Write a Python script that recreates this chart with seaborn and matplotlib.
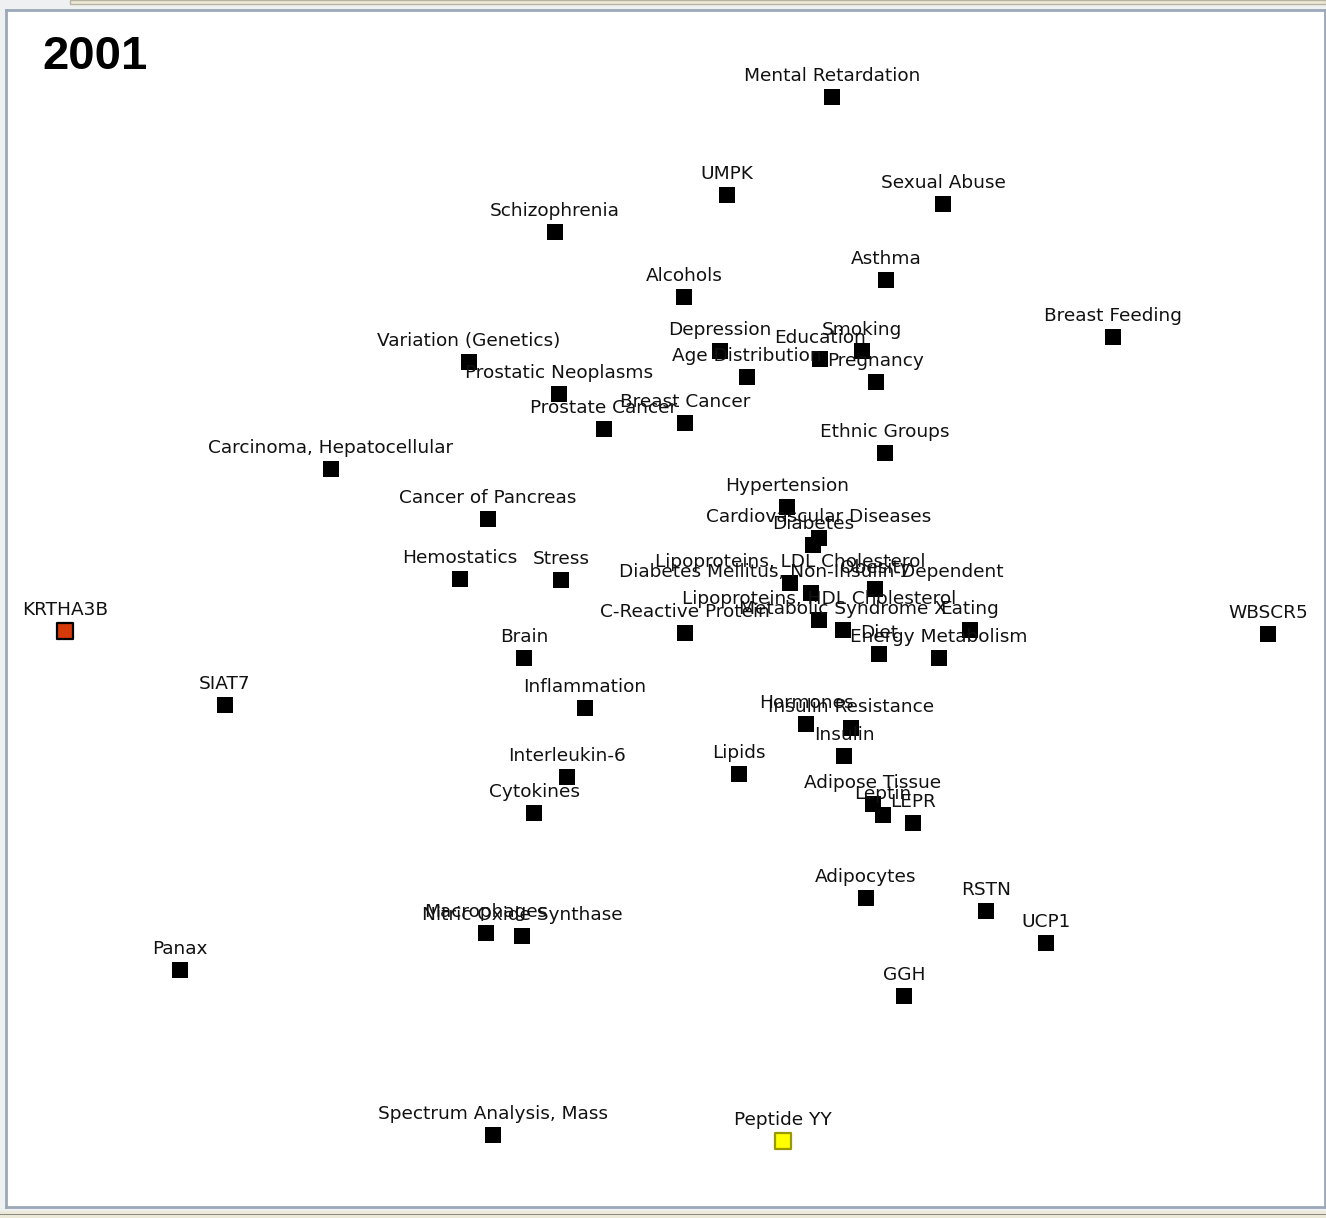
import matplotlib
matplotlib.use("Agg")
import matplotlib.pyplot as plt
from matplotlib.patches import Rectangle
import seaborn as sns
import pandas as pd

terms = [
    "Mental Retardation", "UMPK", "Sexual Abuse", "Schizophrenia", "Asthma",
    "Alcohols", "Breast Feeding", "Depression", "Education", "Smoking",
    "Age Distribution", "Pregnancy", "Variation (Genetics)", "Prostatic Neoplasms",
    "Prostate Cancer", "Breast Cancer", "Ethnic Groups", "Carcinoma, Hepatocellular",
    "Cancer of Pancreas", "Hypertension", "Cardiovascular Diseases", "Diabetes",
    "Hemostatics", "Stress", "Lipoproteins, LDL Cholesterol",
    "Diabetes Mellitus, Non-Insulin-Dependent", "Obesity",
    "Lipoproteins, HDL Cholesterol", "Metabolic Syndrome X", "Eating", "Diet",
    "Energy Metabolism", "C-Reactive Protein", "Brain", "KRTHA3B", "SIAT7",
    "WBSCR5", "Inflammation", "Hormones", "Insulin Resistance", "Insulin",
    "Lipids", "Interleukin-6", "Cytokines", "Adipose Tissue", "Leptin", "LEPR",
    "Adipocytes", "RSTN", "UCP1", "Macrophages", "Nitric Oxide Synthase",
    "Panax", "GGH", "Spectrum Analysis, Mass", "Peptide YY",
]
x_pos = [
    832, 727, 943, 555, 886,
    684, 1113, 720, 820, 862,
    747, 876, 469, 559,
    604, 685, 885, 331,
    488, 787, 819, 813,
    460, 561, 790,
    811, 875,
    819, 843, 970, 879,
    939, 685, 524, 65, 225,
    1268, 585, 806, 851, 844,
    739, 567, 534, 873, 883, 913,
    866, 986, 1046, 486, 522,
    180, 904, 493, 783,
]
y_pos = [
    97, 195, 204, 232, 280,
    297, 337, 351, 359, 351,
    377, 382, 362, 394,
    429, 423, 453, 469,
    519, 507, 538, 545,
    579, 580, 583,
    593, 589,
    620, 630, 630, 654,
    658, 633, 658, 631, 705,
    634, 708, 724, 728, 756,
    774, 777, 813, 804, 815, 823,
    898, 911, 943, 933, 936,
    970, 996, 1135, 1141,
]
status = ["term"] * len(terms)
status[terms.index("KRTHA3B")] = "query"
status[terms.index("Peptide YY")] = "focus"
title_text = "2001"

df = pd.DataFrame({"term": terms, "x": x_pos, "y": y_pos, "status": status})

# ---- figure ----
W, H = 1326, 1218
fig = plt.figure(figsize=(W / 100, H / 100), dpi=100)
fig.patch.set_facecolor("#eef0f2")

# window chrome decorations
fig.patches.append(Rectangle((70 / W, 1 - 4 / H), 1 - 70 / W, 4 / H,
                             transform=fig.transFigure, facecolor="#ece9d8",
                             edgecolor="#b8b4a0", lw=1, zorder=0))
fig.patches.append(Rectangle((0, 0), 1, 7 / H, transform=fig.transFigure,
                             facecolor="#ece9d8", edgecolor="none", zorder=0))
fig.patches.append(Rectangle((0, 3 / H), 1, 1.5 / H, transform=fig.transFigure,
                             facecolor="#8a8a80", edgecolor="none", zorder=0))

left, right, top, bottom = 6, 1325, 10, 1207
ax = fig.add_axes([left / W, (H - bottom) / H, (right - left) / W, (bottom - top) / H])
ax.set_facecolor("white")

palette = {"term": "black", "query": "#d63a08", "focus": "#ffff00"}
edges = {"term": "black", "query": "black", "focus": "#9a9a00"}
sns.scatterplot(data=df, x="x", y="y", hue="status", palette=palette,
                marker="s", s=135, linewidth=0, legend=False, ax=ax, zorder=3)
# outlined special nodes
for st in ["query", "focus"]:
    sub = df[df["status"] == st]
    ax.scatter(sub["x"], sub["y"], marker="s", s=135, facecolor=palette[st],
               edgecolor=edges[st], linewidth=1.6, zorder=4)

label_offset = 21
for t, xx, yy in zip(terms, x_pos, y_pos):
    ax.text(xx, yy - label_offset, t, ha="center", va="center",
            fontsize=13.3, family="DejaVu Sans", color="#111111", zorder=5)

ax.set_xlim(left, right)
ax.set_ylim(bottom, top)
ax.set_xticks([])
ax.set_yticks([])
ax.set_xlabel("")
ax.set_ylabel("")
for sp in ax.spines.values():
    sp.set_color("#9aa8b8")
    sp.set_linewidth(2)

ax.text(42, 57, title_text, fontsize=34, fontweight="bold",
        family="Liberation Sans", ha="left", va="center", color="black", zorder=6)

fig.savefig("out.png", dpi=100, facecolor=fig.get_facecolor())
